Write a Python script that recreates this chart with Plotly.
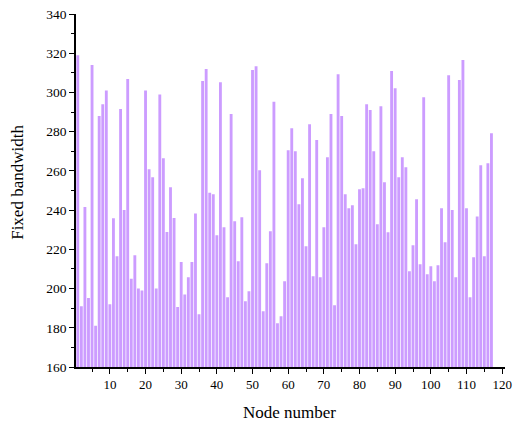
import plotly.graph_objects as go

# Node indices and the fixed bandwidth assigned to each node
nodes = list(range(1, 118))
bandwidth = [
    319.0, 191.0, 241.6, 195.2, 314.0, 181.0, 288.0, 294.0, 301.0, 192.0,
    235.9, 216.5, 291.5, 240.0, 306.8, 205.0, 217.0, 200.0, 199.0, 301.0,
    260.8, 256.8, 200.0, 299.0, 266.5, 228.9, 251.7, 236.0, 190.6, 213.6,
    197.0, 205.8, 213.6, 238.3, 186.9, 305.8, 311.9, 248.8, 248.1, 227.2,
    305.2, 231.3, 195.6, 289.0, 234.3, 213.9, 236.4, 193.5, 198.6, 311.4,
    313.4, 260.3, 188.4, 212.9, 229.2, 295.3, 182.3, 185.9, 203.7, 270.5,
    281.8, 270.0, 243.0, 256.3, 221.6, 283.8, 206.3, 275.7, 205.8, 231.3,
    267.0, 289.0, 191.5, 309.3, 288.0, 248.1, 240.9, 242.5, 222.6, 250.7,
    251.2, 294.0, 291.0, 270.0, 232.8, 293.0, 254.2, 228.7, 310.9, 302.2,
    256.8, 267.0, 261.9, 208.8, 222.1, 245.5, 212.4, 297.6, 207.3, 211.4,
    203.7, 211.9, 240.9, 223.6, 308.8, 240.0, 205.8, 306.3, 316.5, 240.9,
    195.6, 216.0, 236.8, 262.9, 216.5, 263.9, 279.2,
]

x_ticks = list(range(10, 121, 10))
y_ticks = list(range(160, 341, 20))

font_family = "Liberation Serif"

fig = go.Figure(
    go.Bar(
        x=nodes,
        y=bandwidth,
        marker=dict(color="#cc9cff", line=dict(width=0)),
        width=0.8,
    )
)

fig.update_layout(
    width=519,
    height=425,
    margin=dict(l=76, r=7, t=14, b=58),
    plot_bgcolor="white",
    paper_bgcolor="white",
    showlegend=False,
    font=dict(family=font_family, size=13, color="black"),
)

fig.update_xaxes(
    range=[0.5, 120.8],
    tickvals=x_ticks,
    ticktext=[str(v) for v in x_ticks],
    ticks="outside",
    ticklen=5,
    tickwidth=1.3,
    tickcolor="black",
    showline=True,
    linecolor="black",
    linewidth=1.5,
    showgrid=False,
    zeroline=False,
    tickfont=dict(family=font_family, size=13, color="black"),
    minor=dict(dtick=5, tick0=0, ticks="outside", ticklen=3, tickwidth=1, tickcolor="black"),
)

fig.update_yaxes(
    range=[160, 340],
    tickvals=y_ticks,
    ticktext=[str(v) for v in y_ticks],
    ticks="outside",
    ticklen=5,
    tickwidth=1.3,
    tickcolor="black",
    showline=True,
    linecolor="black",
    linewidth=1.5,
    showgrid=False,
    zeroline=False,
    tickfont=dict(family=font_family, size=13.5, color="black"),
    minor=dict(dtick=10, tick0=160, ticks="outside", ticklen=3, tickwidth=1, tickcolor="black"),
)

# Axis titles
fig.add_annotation(
    text="Node number",
    xref="paper", yref="paper",
    x=0.497, y=-0.128,
    xanchor="center", yanchor="middle",
    showarrow=False,
    font=dict(family=font_family, size=17, color="black"),
)
fig.add_annotation(
    text="Fixed bandwidth",
    xref="paper", yref="paper",
    x=-0.135, y=0.522,
    xanchor="center", yanchor="middle",
    textangle=-90,
    showarrow=False,
    font=dict(family=font_family, size=17, color="black"),
)

fig.write_html("out.html")
